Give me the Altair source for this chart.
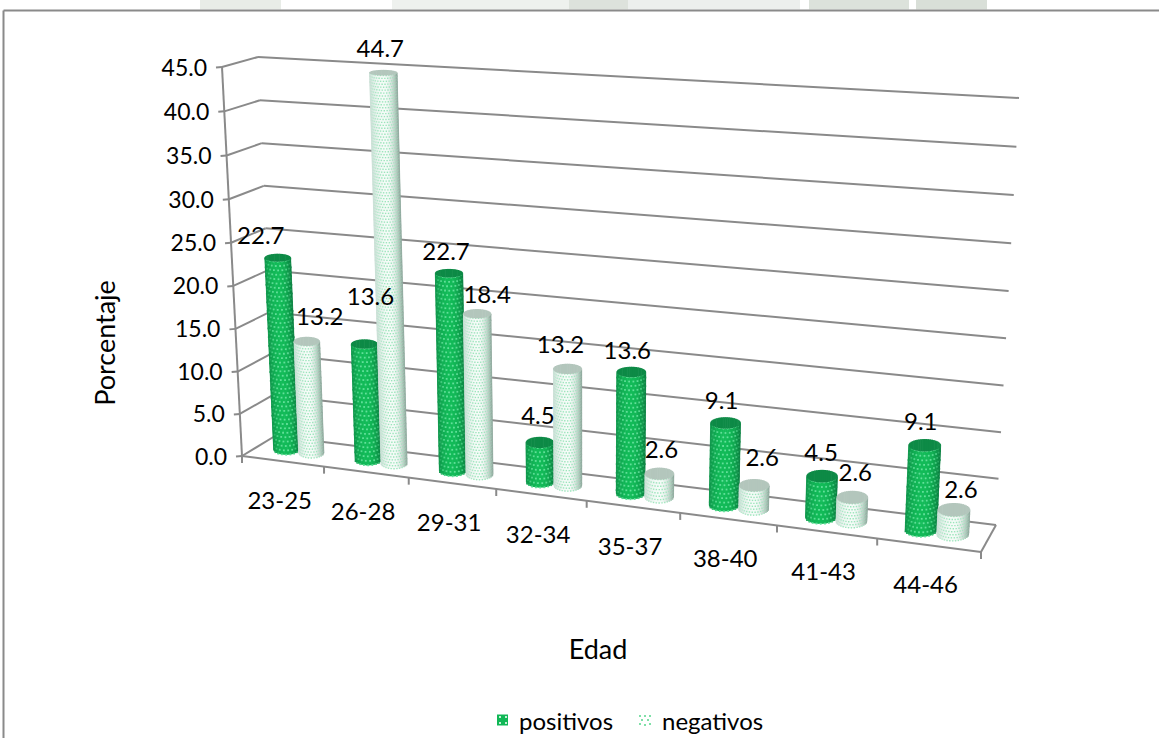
import math
import altair as alt
import pandas as pd

# ---- chart content -------------------------------------------------------
age_groups = ["23-25", "26-28", "29-31", "32-34", "35-37", "38-40", "41-43", "44-46"]
positivos = [22.7, 13.6, 22.7, 4.5, 13.6, 9.1, 4.5, 9.1]
negativos = [13.2, 44.7, 18.4, 13.2, 2.6, 2.6, 2.6, 2.6]
value_ticks = [0, 5, 10, 15, 20, 25, 30, 35, 40, 45]
legend_names = ["positivos", "negativos"]

# ---- 3D box seen in perspective (screen pixels of its corners) -----------
FBL, FBR, BBL, BBR = (242, 456), (981, 552), (275, 436), (996, 525)
FTL, FTR, BTL, BTR = (222, 67), (1004, 112), (258, 57), (1019, 98)
VALUE_MAX = 45.0
U_WARP, V_WARP = 1.144, 1.03

GRID = "#8a8a8a"
FONT = "Lato"
TEXT = "#000000"
TEXT_SIZE = 24

# where each value label sits relative to the top of its column
pos_label_shift = [(-17, -21), (6, -46), (-3, -20), (-2, -25), (-4, -20), (-4, -21), (-1, -22), (-4, -22)]
neg_label_shift = [(13, -23), (-3, -23), (10, -18), (-7, -23), (2, -23), (8, -26), (3, -23), (7, -19)]


def warp(t, k):
    return t / (t + k * (1 - t)) if t > 0 else 0.0


def lerp(a, b, t):
    return a + (b - a) * t


def project(u, depth, value):
    """Category position u (0-1), depth (0 front, 1 back), value -> screen x, y."""
    a = warp(u, U_WARP)
    v = warp(value / VALUE_MAX, V_WARP)
    out = []
    for i in (0, 1):
        front = lerp(lerp(FBL[i], FBR[i], a), lerp(FTL[i], FTR[i], a), v)
        back = lerp(lerp(BBL[i], BBR[i], a), lerp(BTL[i], BTR[i], a), v)
        out.append(lerp(front, back, depth))
    return out


def mix(c1, c2, t):
    t = max(0.0, min(1.0, t))
    a = [int(c1[i:i + 2], 16) for i in (1, 3, 5)]
    b = [int(c2[i:i + 2], 16) for i in (1, 3, 5)]
    return "#%02x%02x%02x" % tuple(round(lerp(p, q, t)) for p, q in zip(a, b))


# ---- wall grid, axes and ticks -------------------------------------------
def seg(a, b, width=2.0, color=GRID):
    return dict(x=a[0], y=a[1], x2=b[0], y2=b[1], w=width, c=color)


lines = []
for tick in value_ticks:
    corner = project(0, 1, tick)
    lines.append(seg(project(0, 0, tick), corner))
    lines.append(seg(corner, project(1, 1, tick)))
    p = project(0, 0, tick)
    lines.append(seg((p[0] - 6, p[1] + 0.5), p))
lines.append(seg(project(0, 0, 0), project(0, 0, VALUE_MAX)))
lines.append(seg(project(0, 0, 0), project(1, 0, 0)))
lines.append(seg(project(1, 0, 0), project(1, 1, 0)))
for i in range(len(age_groups) + 1):
    p = project(i / len(age_groups), 0, 0)
    lines.append(seg(p, (p[0], p[1] + 7)))

# ---- cylinders -------------------------------------------------------------
STRIPS = 24
BAR_OFFSET = 0.155   # share of a category between group centre and column centre
BAR_RADIUS = 0.155
DEPTH_RADIUS = 0.26

STYLE = {
    "positivos": dict(centre="#12bb58", left="#0c9248", right="#0a7f40", top="#0d8a46",
                      dot="#62e09a", pitch=4.3, dot_size=1.8),
    "negativos": dict(centre="#f4fbf7", left="#c9ded5", right="#8ea79c", top="#b3c6bc",
                      dot="#9be5bb", pitch=2.9, dot_size=1.4),
}


def geometry(ucentre, cat, value):
    c = project(ucentre, 0.5, value)
    rx = (project(ucentre + BAR_RADIUS * cat, 0.5, value)[0]
          - project(ucentre - BAR_RADIUS * cat, 0.5, value)[0]) / 2.0
    ry = abs(project(ucentre, 1, value)[1] - project(ucentre, 0, value)[1]) * DEPTH_RADIUS
    return c[0], c[1], rx, ry


def cylinder(index, name, value):
    st = STYLE[name]
    cat = 1 / len(age_groups)
    side = -1 if name == "positivos" else 1
    uc = (index + 0.5 + side * BAR_OFFSET) * cat
    bx, by, brx, bry = geometry(uc, cat, 0)
    tx, ty, trx, try_ = geometry(uc, cat, value)
    out = []

    def shade(cos_t):
        return mix(st["centre"], st["left"] if cos_t < 0 else st["right"], abs(cos_t) ** 2.2)

    # body: slim strips running up the front half of the surface
    for s in range(STRIPS):
        a0 = math.pi - math.pi * s / STRIPS
        a1 = math.pi - math.pi * (s + 1) / STRIPS
        am = (a0 + a1) / 2
        width = (math.cos(a1) - math.cos(a0)) * (brx + trx) / 2 + 0.6
        out.append(seg((bx + brx * math.cos(am), by + bry * math.sin(am)),
                       (tx + trx * math.cos(am), ty + try_ * math.sin(am)),
                       width, shade(math.cos(am))))

    # printed dot texture on the surface
    height = (by - ty)
    rows = max(1, int(height / st["pitch"]))
    for r in range(rows + 1):
        f = r / rows if rows else 0
        cx, cy = lerp(bx, tx, f), lerp(by, ty, f)
        rx, ry = lerp(brx, trx, f), lerp(bry, try_, f)
        step = st["pitch"] / rx
        k = -12
        while k <= 12:
            a = math.pi / 2 + (k + 0.5 * (r % 2)) * step
            k += 1
            if a < 0.2 or a > math.pi - 0.2:
                continue
            x = cx + rx * math.cos(a)
            y = cy + ry * math.sin(a)
            fade = abs(math.cos(a)) ** 3
            col = mix(st["dot"], shade(math.cos(a)), fade)
            d = st["dot_size"] / 2
            out.append(seg((x - d, y), (x + d, y), st["dot_size"], col))

    # cap
    for s in range(STRIPS):
        a = math.pi - math.pi * (s + 0.5) / STRIPS
        width = abs(math.cos(a + math.pi / STRIPS / 2) - math.cos(a - math.pi / STRIPS / 2)) * trx + 0.6
        x = tx + trx * math.cos(a)
        out.append(seg((x, ty - try_ * math.sin(a)), (x, ty + try_ * math.sin(a)), width, st["top"]))
    return out


surface = []
labels = []
for i, group in enumerate(age_groups):
    for name, vals, shifts in (("positivos", positivos, pos_label_shift),
                               ("negativos", negativos, neg_label_shift)):
        surface += cylinder(i, name, vals[i])
        side = -1 if name == "positivos" else 1
        uc = (i + 0.5 + side * BAR_OFFSET) / len(age_groups)
        top = project(uc, 0.5, vals[i])
        labels.append(dict(x=top[0] + shifts[i][0], y=top[1] + shifts[i][1],
                           t=f"{vals[i]:.1f}", align="center"))

# axis labels follow the box edges
tick_text = []
for tick in value_ticks:
    p = project(0, 0, tick)
    tick_text.append(dict(x=p[0] - 15, y=p[1] + 1.5, t=f"{tick:.1f}"))
cat_text = []
for i, group in enumerate(age_groups):
    p = project((i + 0.5) / len(age_groups), 0, 0)
    cat_text.append(dict(x=p[0] - 3, y=p[1] + 41, t=group))

# ---- legend ---------------------------------------------------------------
legend_swatches = [497, 639]
legend_y = 720
legend_text = [dict(x=519, y=723, t=legend_names[0]), dict(x=662, y=723, t=legend_names[1])]
legend_marks = []
sx = legend_swatches[0]
legend_marks.append(seg((sx, legend_y), (sx + 11, legend_y), 11, "#10b756"))
for dx, dy in [(3, -3), (9, -3), (3, 3), (9, 3)]:
    legend_marks.append(seg((sx + dx - 1, legend_y + dy), (sx + dx + 1, legend_y + dy), 2, "#c4f0d6"))
sx = legend_swatches[1]
for dx, dy in [(1, -4), (6, -4), (11, -4), (3, 0), (9, 0), (1, 4), (6, 5), (11, 4)]:
    legend_marks.append(seg((sx + dx - 1, legend_y + dy), (sx + dx + 1, legend_y + dy), 2, "#7fe0a8"))

# ---- page furniture: frame and the pale emblem above it --------------------
frame = [seg((3.5, 10.5), (3.5, 738), 2, GRID), seg((3.5, 10.5), (1159, 10.5), 2, GRID)]
emblem = [dict(x=200, x2=281, c="#e8ece7"), dict(x=392, x2=569, c="#eef1ee"),
          dict(x=569, x2=628, c="#dde2dc"), dict(x=628, x2=800, c="#ecefed"),
          dict(x=809, x2=909, c="#dce2db"), dict(x=916, x2=987, c="#d9dfd8")]

# ---- Altair layers -----------------------------------------------------------
X = alt.X("x:Q", scale=alt.Scale(domain=[0, 1159]), axis=None)
Y = alt.Y("y:Q", scale=alt.Scale(domain=[738, 0]), axis=None)


def rules(rows):
    return alt.Chart(pd.DataFrame(rows)).mark_rule(strokeCap="butt").encode(
        x=X, y=Y, x2="x2:Q", y2="y2:Q",
        size=alt.Size("w:Q", scale=None, legend=None),
        color=alt.Color("c:N", scale=None, legend=None),
    )


def texts(rows, align="center", size=TEXT_SIZE, angle=0):
    return alt.Chart(pd.DataFrame(rows)).mark_text(
        font=FONT, fontSize=size, color=TEXT, align=align, baseline="middle", angle=angle
    ).encode(x=X, y=Y, text="t:N")


emblem_layer = alt.Chart(pd.DataFrame(emblem)).transform_calculate(y="0", y2="9.5").mark_rect().encode(
    x=X, x2="x2:Q", y=Y, y2="y2:Q", color=alt.Color("c:N", scale=None, legend=None)
)

chart = alt.layer(
    emblem_layer,
    rules(frame),
    rules(lines),
    rules(surface),
    texts(labels),
    texts(tick_text, align="right", size=23),
    texts(cat_text),
    texts([dict(x=107, y=343, t="Porcentaje")], angle=270, size=27),
    texts([dict(x=598, y=651, t="Edad")], size=27),
    rules(legend_marks),
    texts(legend_text, align="left"),
).properties(
    width=1159, height=738, padding=0, autosize=alt.AutoSizeParams(type="none"), background="white"
).configure_view(stroke=None)

chart.save("out.html", embed_options={"renderer": "svg", "actions": False})
